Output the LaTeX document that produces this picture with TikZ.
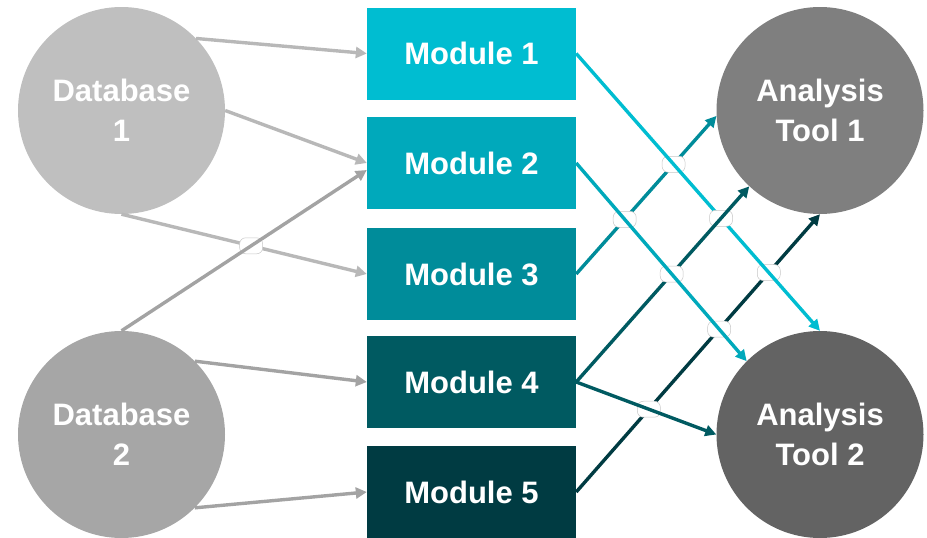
\documentclass[tikz,border=0pt]{standalone}
\usepackage{fontspec}
\setmainfont{Liberation Sans}
\usetikzlibrary{arrows.meta,intersections,calc}
\definecolor{dbA}{HTML}{BFBFBF}
\definecolor{dbB}{HTML}{A6A6A6}
\definecolor{lnA}{HTML}{B8B8B8}
\definecolor{lnB}{HTML}{A3A3A3}
\definecolor{toolA}{HTML}{7F7F7F}
\definecolor{toolB}{HTML}{636363}
\definecolor{mA}{HTML}{00BDD1}
\definecolor{mB}{HTML}{00A9BB}
\definecolor{mC}{HTML}{008C9A}
\definecolor{mD}{HTML}{005A61}
\definecolor{mE}{HTML}{003B42}
\begin{document}
\begin{tikzpicture}[x=1pt,y=-1pt,
  circ/.style={circle,minimum size=207pt,inner sep=0pt,text=white,
    font=\fontsize{31}{40}\selectfont\bfseries,align=center},
  modbox/.style={rectangle,minimum width=209pt,minimum height=92pt,inner sep=0pt,
    text=white,font=\fontsize{31}{36}\selectfont\bfseries},
  conn/.style={line width=3.4pt,-{Triangle[length=11pt,width=11pt]}},
  bridge/.style={rectangle,rounded corners=6pt,minimum width=23pt,minimum height=16pt,
    fill=white,draw=black!22,line width=0.5pt,inner sep=0pt}
]
\useasboundingbox (0,0) rectangle (927,538);
\begin{scope}
\clip (0,0) rectangle (927,538);
% circles
\node[circ,fill=dbA] (db1) at (121.5,110.5) {Database\\1};
\node[circ,fill=dbB] (db2) at (121.5,434.5) {Database\\2};
\node[circ,fill=toolA] (t1) at (820,110.5) {Analysis\\Tool 1};
\node[circ,fill=toolB] (t2) at (820,434.5) {Analysis\\Tool 2};
% modules
\node[modbox,fill=mA] (m1) at (471.5,53.5) {Module 1};
\node[modbox,fill=mB] (m2) at (471.5,163) {Module 2};
\node[modbox,fill=mC] (m3) at (471.5,274) {Module 3};
\node[modbox,fill=mD] (m4) at (471.5,382) {Module 4};
\node[modbox,fill=mE] (m5) at (471.5,492) {Module 5};
\end{scope}
% gray connectors
\draw[conn,lnA] (db1.44) -- (m1.west);
\draw[conn,lnA] (db1.east) -- (m2.west);
\draw[conn,lnA,name path=g3] (db1.south) -- (m3.west);
\path[name path=g4] (db2.north) -- ($(m2.west)+(0,7)$);
\path[name intersections={of=g3 and g4,by=xg}];
\node[bridge] (bg) at (xg) {};
\draw[conn,lnB] (db2.north) -- ($(m2.west)+(0,7)$);
\draw[conn,lnB] (db2.45) -- (m4.west);
\draw[conn,lnB] (db2.-45) -- (m5.west);
% teal connector paths
\path[name path=l1] (m1.east) -- (t2.north);
\path[name path=l2] (m2.east) -- (t2.135);
\path[name path=l3] (m3.east) -- (t1.183);
\path[name path=l4a] (m4.east) -- (t1.227);
\path[name path=l4b] (m4.east) -- (t2.west);
\path[name path=l5] (m5.east) -- (t1.south);
\path[name intersections={of=l3 and l1,by=x31}];
\path[name intersections={of=l3 and l2,by=x32}];
\path[name intersections={of=l5 and l1,by=x51}];
\path[name intersections={of=l5 and l2,by=x52}];
\path[name intersections={of=l5 and l4b,by=x54}];
\path[name intersections={of=l1 and l4a,by=x14}];
\path[name intersections={of=l4a and l2,by=x42}];
% layered drawing
\draw[conn,mC] (m3.east) -- (t1.183);
\draw[conn,mE] (m5.east) -- (t1.south);
\node[bridge] (b31) at (x31) {};
\node[bridge] (b32) at (x32) {};
\node[bridge] (b51) at (x51) {};
\node[bridge] (b52) at (x52) {};
\node[bridge] (b54) at (x54) {};
\draw[conn,mA] (m1.east) -- (t2.north);
\node[bridge] (b14) at (x14) {};
\draw[conn,mD] (m4.east) -- (t1.227);
\node[bridge] (b42) at (x42) {};
\draw[conn,mB] (m2.east) -- (t2.135);
\draw[conn,mD] (m4.east) -- (t2.west);
\end{tikzpicture}
\end{document}
